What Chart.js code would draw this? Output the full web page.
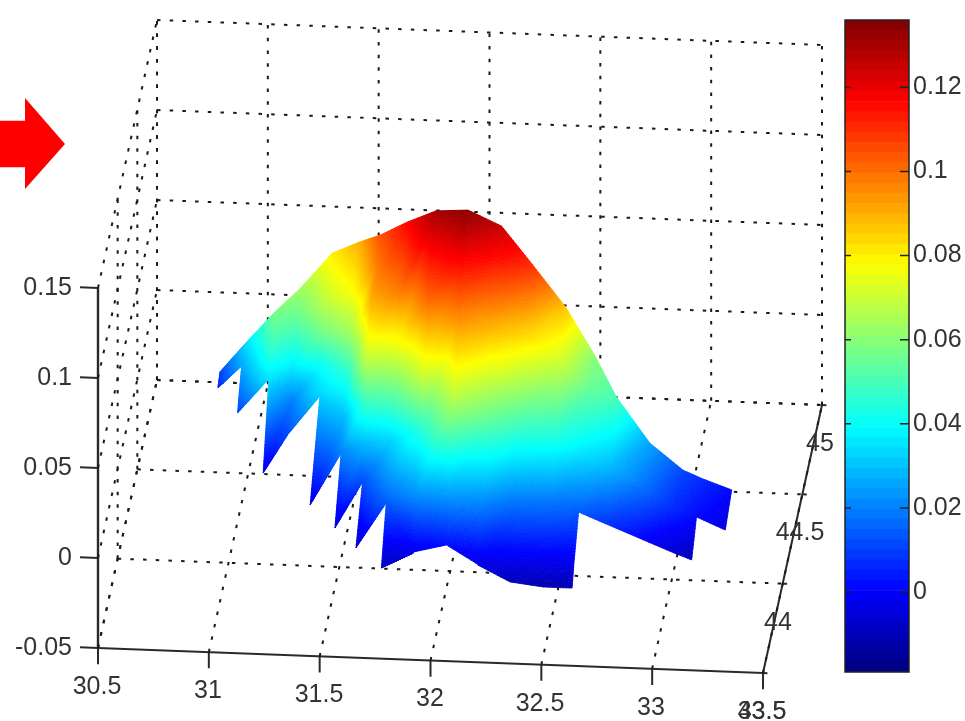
<!DOCTYPE html>
<html><head><meta charset="utf-8">
<style>
html,body{margin:0;padding:0;background:#fff;width:965px;height:721px;overflow:hidden}
canvas{position:absolute;top:0}
#arrow{position:absolute;left:0;top:98px;width:65px;height:91px;background:#f00;
clip-path:polygon(0 25%,38.5% 25%,38.5% 0,100% 50.5%,38.5% 100%,38.5% 76%,0 76%)}
</style>
<script src="https://cdn.jsdelivr.net/npm/chart.js@4/dist/chart.umd.min.js"></script>
</head><body>
<canvas id="main" width="965" height="721" style="left:0"></canvas>
<canvas id="bar" width="130" height="721" style="left:835px"></canvas>
<div id="arrow"></div>
<script>
// ---- data ----
const xTicks = [30.5,31,31.5,32,32.5,33,33.5];
const yTicks = [43.5,44,44.5,45];
const zTicks = [-0.05,0,0.05,0.1,0.15];
const xTickLabels = ['30.5','31','31.5','32','32.5','33','33.5'];
const yTickLabels = ['43.5','44','44.5','45'];
const zTickLabels = ['-0.05','0','0.05','0.1','0.15'];
const colorTicks = [0,0.02,0.04,0.06,0.08,0.1,0.12];
const colorTickLabels = ['0','0.02','0.04','0.06','0.08','0.1','0.12'];
const colorMin = -0.019, colorMax = 0.136;

const xCols = [30.88,31.0,31.15,31.25,31.39,31.52,31.63,31.76,31.9,32.05,32.2,32.35,32.5,32.63,32.75,32.9,33.05,33.14,33.27];
const n = null;
const yRows = [43.55,43.6,43.715,43.837,44.0,44.12,44.22,44.32,44.42];
const y01 = [n,n,n,n,n,n,n,44.409,44.458];
const y02 = [n,n,n,n,n,44.235,44.282,44.336,44.393];
const y03 = [n,n,n,n,44.036,44.18,44.24,44.28,44.333];
const y04 = [n,n,n,n,44.108,44.217,44.242,44.315,44.406];
const y05 = [n,n,n,43.879,44.126,44.209,44.233,44.308,44.442];
const y06 = [n,n,43.776,43.934,44.046,44.118,44.171,44.262,44.41];
const y07 = [n,43.69,43.857,43.903,43.942,43.991,44.09,44.215,44.313];
const y08 = [43.604,43.726,43.774,43.887,43.937,43.995,44.071,44.271,n];
const y09 = [43.623,43.629,43.696,43.829,43.892,44.002,44.198,n,n];
const y10 = [n,43.625,43.69,43.784,43.973,44.095,44.17,n,n];
const y11 = [43.58,43.583,43.667,43.816,43.977,44.115,44.178,n,n];
const yGrid = [y01,y02,y03,y04,y05,y06,y07,y08,y09,y10,y11,yRows,yRows,yRows,yRows,yRows,yRows,yRows,yRows];

const z01 = [n,n,n,n,n,n,n,.006,.01];
const z02 = [n,n,n,n,n,.01,.018,.026,.032];
const z03 = [n,n,n,n,-.003,.035,.048,.052,.057];
const z04 = [n,n,n,n,.012,.02,.037,.052,.063];
const z05 = [n,n,n,-.004,.032,.041,.058,.07,.08];
const z06 = [n,n,-.006,.02,.03,.045,.062,.078,.09];
const z07 = [n,-.008,.012,.028,.048,.072,.09,.097,.104];
const z08 = [-.01,.014,.022,.033,.053,.075,.098,.116,n];
const z09 = [-.003,-.003,.022,.045,.072,.1,.13,n,n];
const z10 = [n,.002,.026,.064,.098,.122,.134,n,n];
const z11 = [-.004,-.004,.018,.056,.09,.118,.125,n,n];
const z12 = [-.0097,-.002,.018,.048,.085,.11,n,n,n];
const z13 = [-.0118,-.002,.017,.045,.073,.087,n,n,n];
const z14 = [-.0118,-.002,.014,.036,.055,.061,n,n,n];
const z15 = [n,n,.0082,.03,.0502,n,n,n,n];
const z16 = [n,n,.001,.018,.0254,n,n,n,n];
const z17 = [n,n,-.0062,.006,.011,n,n,n,n];
const z18 = [n,n,-.0102,.0016,.0065,n,n,n,n];
const z19 = [n,n,n,-.0051,.001,n,n,n,n];
const zGrid = [z01,z02,z03,z04,z05,z06,z07,z08,z09,z10,z11,z12,z13,z14,z15,z16,z17,z18,z19];

// ---- view of the 3-D box (orthographic) ----
const view = {ox:98, oy:648, xu:221.67, xv:8.33, yu:39.33, yv:-178.67, zv:-1800};
const xLo=30.5,xHi=33.5,yLo=43.5,yHi=45,zLo=-0.05,zHi=0.15;
function proj(x,y,z){
  return {x:view.ox+(x-xLo)*view.xu+(y-yLo)*view.yu,
          y:view.oy+(x-xLo)*view.xv+(y-yLo)*view.yv+(z-zLo)*view.zv};
}
function clamp(v){return Math.max(0,Math.min(1,v));}
function jet(z){
  const f=(z-colorMin)/(colorMax-colorMin);
  const r=clamp(Math.min(4*f-1.5,-4*f+4.5)),g=clamp(Math.min(4*f-0.5,-4*f+3.5)),b=clamp(Math.min(4*f+0.5,-4*f+2.5));
  return `rgb(${Math.round(r*255)},${Math.round(g*255)},${Math.round(b*255)})`;
}
function seg(a,b,solid,w){
  return {type:'line',data:[proj(...a),proj(...b)],showLine:true,pointRadius:0,
    borderColor:solid?'#2a2a2a':'#1a1a1a',borderWidth:w||2,borderDash:solid?[]:[3.5,9.2],tension:0,fill:false,order:1};
}
const wires=[];
xTicks.forEach(x=>{
  wires.push(seg([x,yHi,zLo],[x,yHi,zHi]));
  wires.push(seg([x,yLo,zLo],[x,yHi,zLo]));
});
zTicks.forEach(z=>{
  wires.push(seg([xLo,yHi,z],[xHi,yHi,z]));
  wires.push(seg([xLo,yLo,z],[xLo,yHi,z]));
});
yTicks.forEach(y=>{
  if(y===yLo)return;
  wires.push(seg([xLo,y,zLo],[xHi,y,zLo]));
  wires.push(seg([xLo,y,zLo],[xLo,y,zHi]));
});
const solids=[
  seg([xLo,yLo,zLo],[xHi,yLo,zLo],true,2),
  seg([xHi,yLo,zLo],[xHi,yHi,zLo],true,2),
  seg([xLo,yLo,zLo],[xLo,yLo,zHi],true,2.4)
];
xTicks.forEach(x=>solids.push(seg([x,yLo,zLo],[x,yLo,zLo-0.009],true,2)));
zTicks.forEach(z=>solids.push(seg([xLo,yLo,z],[xLo-0.081,yLo,z],true,2)));
yTicks.forEach(y=>solids.push(seg([xHi,y,zLo],[xHi+0.02,y,zLo],true,2)));

const vertices=[];
xCols.forEach((x,i)=>zGrid[i].forEach((z,j)=>{ if(z!==null)vertices.push(proj(x,yGrid[i][j],z));}));

function shade(ctx,a,b,c){
  const L=Math.max(Math.hypot(a.x-b.x,a.y-b.y),Math.hypot(b.x-c.x,b.y-c.y),Math.hypot(a.x-c.x,a.y-c.y));
  const N=Math.max(1,Math.min(40,Math.ceil(L/4)));
  const P=(i,j)=>{const k=N-i-j;return {x:(a.x*k+b.x*i+c.x*j)/N,y:(a.y*k+b.y*i+c.y*j)/N,z:(a.z*k+b.z*i+c.z*j)/N};};
  const T=(p,q,r)=>{
    const col=jet((p.z+q.z+r.z)/3);
    ctx.fillStyle=col;ctx.strokeStyle=col;ctx.lineWidth=0.8;
    ctx.beginPath();ctx.moveTo(p.x,p.y);ctx.lineTo(q.x,q.y);ctx.lineTo(r.x,r.y);ctx.closePath();ctx.fill();ctx.stroke();
  };
  for(let i=0;i<N;i++)for(let j=0;j<N-i;j++){
    T(P(i,j),P(i+1,j),P(i,j+1));
    if(i+j<N-1)T(P(i+1,j),P(i+1,j+1),P(i,j+1));
  }
}
const surfacePlugin={id:'surface',afterDatasetsDraw(chart){
  const ctx=chart.ctx,sx=chart.scales.x,sy=chart.scales.y;
  const V=(i,j)=>{const z=zGrid[i][j];if(z===null)return null;const p=proj(xCols[i],yGrid[i][j],z);
    return {x:sx.getPixelForValue(p.x),y:sy.getPixelForValue(p.y),z};};
  ctx.save();
  for(let j=yRows.length-2;j>=0;j--)for(let i=0;i<xCols.length-1;i++){
    const a=V(i,j),b=V(i+1,j),c=V(i+1,j+1),d=V(i,j+1);
    if(!a||!b)continue;
    if(c&&d){shade(ctx,a,b,c);shade(ctx,a,c,d);}
    else if(c){shade(ctx,a,b,c);}
    else if(d){shade(ctx,a,b,d);}
  }
  ctx.fillStyle='#333';ctx.font='25px "Liberation Sans"';ctx.textBaseline='middle';
  const put=(t,p,dx,dy,al)=>{ctx.textAlign=al;ctx.fillText(t,Math.round(sx.getPixelForValue(p.x)+dx),Math.round(sy.getPixelForValue(p.y)+dy));};
  xTicks.forEach((x,i)=>put(xTickLabels[i],proj(x,yLo,zLo),-1,39,'center'));
  yTicks.forEach((y,i)=>put(yTickLabels[i],proj(xHi,y,zLo),i===0?-1:(i===1?-5:-2),39,'center'));
  zTicks.forEach((z,i)=>put(zTickLabels[i],proj(xLo,yLo,z),-26,0,'right'));
  ctx.restore();
}};
new Chart(document.getElementById('main'),{
  type:'scatter',
  data:{datasets:[...wires,...solids,{label:'surface',data:vertices,pointRadius:0,showLine:false}]},
  options:{responsive:false,animation:false,layout:{padding:0},
    plugins:{legend:{display:false},tooltip:{enabled:false}},
    scales:{x:{type:'linear',min:0,max:965,display:false},y:{type:'linear',min:0,max:721,reverse:true,display:false}}},
  plugins:[surfacePlugin]
});

// ---- colour bar ----
const levels=64;
const bands=[];
for(let k=0;k<levels;k++){
  const lo=colorMin+(colorMax-colorMin)*k/levels,hi=colorMin+(colorMax-colorMin)*(k+1)/levels;
  bands.push({data:[[lo,hi]],backgroundColor:jet((k+0.5)/levels*(colorMax-colorMin)+colorMin),borderWidth:0,
    barPercentage:1,categoryPercentage:1,grouped:false});
}
const barFrame={id:'barFrame',afterDatasetsDraw(chart){
  const ctx=chart.ctx,a=chart.chartArea,s=chart.scales.y;
  ctx.save();ctx.strokeStyle='#222';ctx.lineWidth=1.5;ctx.strokeRect(a.left,a.top,a.right-a.left,a.bottom-a.top);
  ctx.beginPath();
  colorTicks.forEach(t=>{const y=s.getPixelForValue(t);
    ctx.moveTo(a.left,y);ctx.lineTo(a.left+6,y);ctx.moveTo(a.right,y);ctx.lineTo(a.right-9,y);});
  ctx.stroke();ctx.restore();
}};
new Chart(document.getElementById('bar'),{
  type:'bar',
  data:{labels:['c'],datasets:bands},
  options:{responsive:false,animation:false,
    layout:{padding:{left:10,top:20,bottom:49,right:0}},
    plugins:{legend:{display:false},tooltip:{enabled:false}},
    scales:{
      x:{display:false},
      y:{position:'right',min:colorMin,max:colorMax,
        afterBuildTicks(ax){ax.ticks=colorTicks.map(v=>({value:v}));},
        afterFit(ax){ax.width=56;},
        grid:{display:false,drawTicks:false,tickLength:0},border:{display:false},
        ticks:{color:'#333',font:{family:'"Liberation Sans"',size:25},padding:4,autoSkip:false,
          callback:v=>colorTickLabels[colorTicks.indexOf(v)]}}
    }},
  plugins:[barFrame]
});
</script>
</body></html>
